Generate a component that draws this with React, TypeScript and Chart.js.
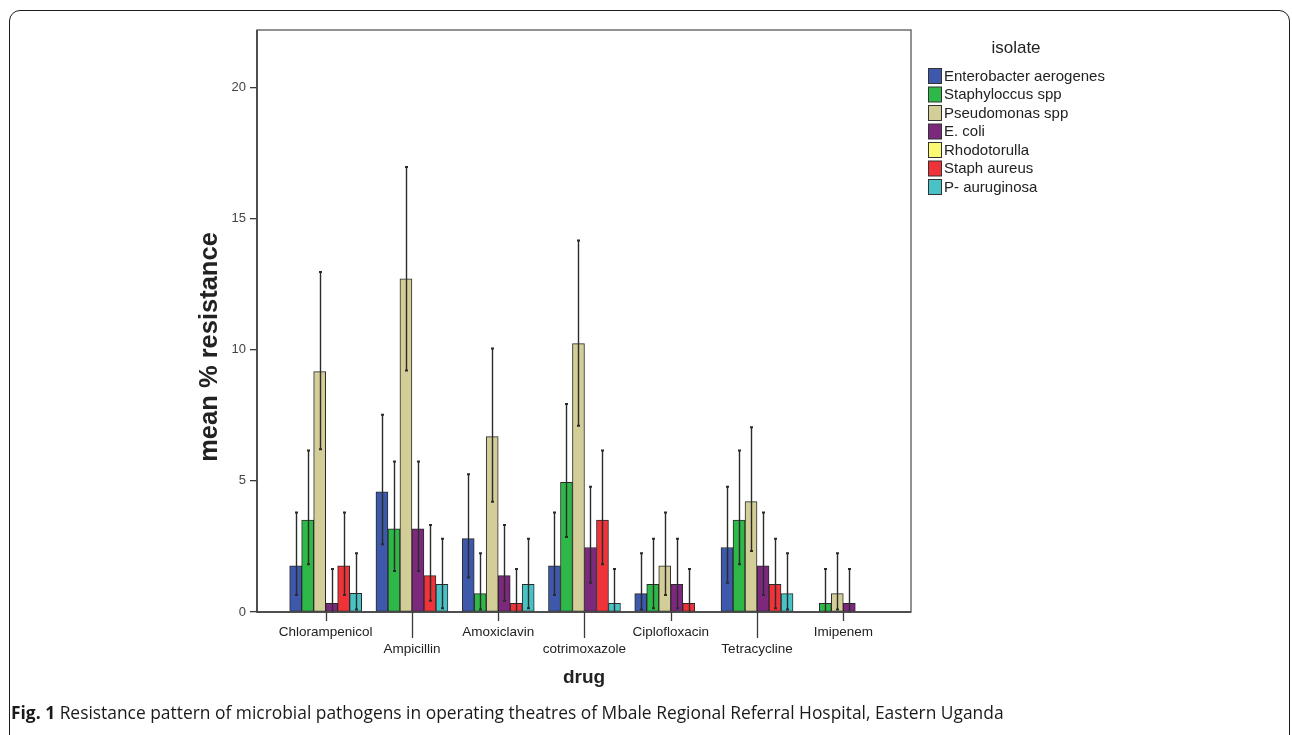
import React, { useEffect, useRef } from 'react';
import { Chart, registerables } from 'chart.js';

Chart.register(...registerables);

// ---------- data ----------
const drugs = ['Chlorampenicol', 'Ampicillin', 'Amoxiclavin', 'cotrimoxazole', 'Ciplofloxacin', 'Tetracycline', 'Imipenem'];
const isolateNames = ['Enterobacter aerogenes', 'Staphyloccus spp', 'Pseudomonas spp', 'E. coli', 'Rhodotorulla', 'Staph aureus', 'P- auruginosa'];
const isolateColors = ['#3E58AC', '#2EB848', '#D3CE97', '#7C287D', '#FBF873', '#EF3338', '#48C2C5'];
const yTickValues = [0, 5, 10, 15, 20];
const legendTitle = 'isolate';
const xTitle = 'drug';
const yTitle = 'mean % resistance';

const enterobacter = [1.76, 4.58, 2.8, 1.76, 0.7, 2.46, 0];
const enterobacterHi = [3.8, 7.52, 5.25, 3.8, 2.24, 4.78, null];
const enterobacterLo = [0.65, 2.58, 1.32, 0.65, 0.1, 1.12, null];

const staphyloccus = [3.51, 3.17, 0.7, 4.95, 1.06, 3.51, 0.33];
const staphyloccusHi = [6.16, 5.74, 2.24, 7.93, 2.79, 6.16, 1.64];
const staphyloccusLo = [1.82, 1.56, 0.1, 2.86, 0.14, 1.82, 0.0];

const pseudomonas = [9.17, 12.71, 6.69, 10.24, 1.76, 4.21, 0.7];
const pseudomonasHi = [12.97, 16.97, 10.05, 14.17, 3.8, 7.05, 2.24];
const pseudomonasLo = [6.21, 9.21, 4.21, 7.1, 0.65, 2.33, 0.1];

const ecoli = [0.33, 3.17, 1.39, 2.46, 1.06, 1.76, 0.33];
const ecoliHi = [1.64, 5.74, 3.32, 4.78, 2.79, 3.8, 1.64];
const ecoliLo = [0.0, 1.56, 0.43, 1.12, 0.14, 0.65, 0.0];

const rhodotorulla = [null, null, null, null, null, null, null];
const rhodotorullaHi = [null, null, null, null, null, null, null];
const rhodotorullaLo = [null, null, null, null, null, null, null];

const staphAureus = [1.76, 1.39, 0.33, 3.51, 0.33, 1.06, 0];
const staphAureusHi = [3.8, 3.32, 1.64, 6.16, 1.64, 2.79, null];
const staphAureusLo = [0.65, 0.43, 0.0, 1.82, 0.0, 0.14, null];

const pAuruginosa = [0.71, 1.06, 1.06, 0.33, 0, 0.7, 0];
const pAuruginosaHi = [2.24, 2.79, 2.79, 1.64, null, 2.24, null];
const pAuruginosaLo = [0.1, 0.14, 0.14, 0.0, null, 0.1, null];

const seriesValues = [enterobacter, staphyloccus, pseudomonas, ecoli, rhodotorulla, staphAureus, pAuruginosa];
const seriesHi = [enterobacterHi, staphyloccusHi, pseudomonasHi, ecoliHi, rhodotorullaHi, staphAureusHi, pAuruginosaHi];
const seriesLo = [enterobacterLo, staphyloccusLo, pseudomonasLo, ecoliLo, rhodotorullaLo, staphAureusLo, pAuruginosaLo];

const FONT = '"Liberation Sans", Arial, sans-serif';

export default function App() {
  const canvasRef = useRef<HTMLCanvasElement | null>(null);

  useEffect(() => {
    const canvas = canvasRef.current;
    if (!canvas) return;

    const errorBars = {
      id: 'errorBars',
      afterDatasetsDraw(chart: any) {
        const ctx = chart.ctx;
        const ys = chart.scales.y;
        ctx.save();
        ctx.strokeStyle = '#2b2b2b';
        chart.data.datasets.forEach((_: any, i: number) => {
          if (!chart.isDatasetVisible(i)) return;
          const meta = chart.getDatasetMeta(i);
          meta.data.forEach((bar: any, j: number) => {
            const hi = seriesHi[i][j];
            const lo = seriesLo[i][j];
            if (hi == null || lo == null) return;
            const x = Math.round(bar.x) + 0.5;
            const y1 = ys.getPixelForValue(hi);
            const y2 = ys.getPixelForValue(lo);
            ctx.lineWidth = 1.4;
            ctx.beginPath();
            ctx.moveTo(x, y1);
            ctx.lineTo(x, y2);
            ctx.stroke();
            ctx.lineWidth = 2;
            ctx.beginPath();
            ctx.moveTo(x - 1.5, y1);
            ctx.lineTo(x + 1.5, y1);
            ctx.moveTo(x - 1.5, y2);
            ctx.lineTo(x + 1.5, y2);
            ctx.stroke();
          });
        });
        ctx.restore();
      },
    };

    const decor = {
      id: 'decor',
      afterDraw(chart: any) {
        const ctx = chart.ctx;
        const a = chart.chartArea;
        const xs = chart.scales.x;
        ctx.save();
        // plot frame
        ctx.strokeStyle = '#6e6e6e';
        ctx.lineWidth = 1.5;
        ctx.strokeRect(a.left, a.top, a.right - a.left, a.bottom - a.top);
        ctx.strokeStyle = '#3a3a3a';
        ctx.beginPath();
        ctx.moveTo(a.left, a.top);
        ctx.lineTo(a.left, a.bottom);
        ctx.lineTo(a.right, a.bottom);
        ctx.stroke();
        // x tick marks (staggered)
        ctx.lineWidth = 1.3;
        drugs.forEach((_, i) => {
          const px = Math.round(xs.getPixelForValue(i)) + 0.5;
          const len = i % 2 === 0 ? 9 : 26;
          ctx.beginPath();
          ctx.moveTo(px, a.bottom);
          ctx.lineTo(px, a.bottom + len);
          ctx.stroke();
        });
        // y axis title (rotated)
        ctx.save();
        ctx.translate(210, 347);
        ctx.rotate(-Math.PI / 2);
        ctx.fillStyle = '#222';
        ctx.font = `bold 25.5px ${FONT}`;
        ctx.textAlign = 'center';
        ctx.textBaseline = 'middle';
        ctx.fillText(yTitle, 0, 0);
        ctx.restore();
        // legend
        const lx = a.right + 17;
        ctx.fillStyle = '#222';
        ctx.font = `17px ${FONT}`;
        ctx.textAlign = 'center';
        ctx.textBaseline = 'middle';
        ctx.fillText(legendTitle, lx + 88, 48);
        chart.data.datasets.forEach((ds: any, i: number) => {
          const cy = 76 + i * 18.5;
          ctx.fillStyle = ds.backgroundColor;
          ctx.fillRect(lx, cy - 7.5, 13, 15);
          ctx.strokeStyle = '#333';
          ctx.lineWidth = 1;
          ctx.strokeRect(lx + 0.5, cy - 7.5, 13, 15);
          ctx.fillStyle = '#222';
          ctx.font = `15px ${FONT}`;
          ctx.textAlign = 'left';
          ctx.fillText(ds.label, lx + 16, cy + 0.5);
        });
        ctx.restore();
      },
    };

    const chart = new Chart(canvas, {
      type: 'bar',
      data: {
        datasets: isolateNames.map((name, i) => ({
          label: name,
          data: seriesValues[i].map((v, j) => ({ x: j, y: v })),
          backgroundColor: isolateColors[i],
          borderColor: '#2a2a2a',
          borderWidth: 1,
          borderSkipped: false,
          barThickness: 12,
          hidden: seriesValues[i].every((v) => v == null),
        })),
      },
      options: {
        animation: false,
        responsive: false,
        devicePixelRatio: 1,
        layout: { padding: { left: 0, top: 30, right: 381, bottom: 0 } },
        plugins: {
          legend: { display: false },
          tooltip: { enabled: false },
        },
        scales: {
          x: {
            type: 'linear',
            offset: false,
            min: -0.796,
            max: 6.785,
            afterBuildTicks: (scale: any) => {
              scale.ticks = drugs.map((_, i) => ({ value: i }));
            },
            afterFit: (scale: any) => {
              scale.height = 123;
            },
            grid: { display: false, drawTicks: false },
            border: { display: false },
            ticks: {
              autoSkip: false,
              maxRotation: 0,
              minRotation: 0,
              padding: 12,
              color: '#222',
              font: { family: FONT, size: 13.5, lineHeight: 1.27 },
              callback: (value: any, index: number) => {
                const label = drugs[Math.round(Number(value))] ?? '';
                return index % 2 === 0 ? label : ['', label];
              },
            },
            title: {
              display: true,
              text: xTitle,
              color: '#222',
              font: { family: FONT, size: 19, weight: 'bold' },
              padding: { top: 0, bottom: 46 },
            },
          },
          y: {
            min: 0,
            max: 22.2,
            afterBuildTicks: (scale: any) => {
              scale.ticks = yTickValues.map((v) => ({ value: v }));
            },
            afterFit: (scale: any) => {
              scale.width = 257;
            },
            grid: { drawOnChartArea: false, drawTicks: true, tickLength: 7, color: '#3a3a3a', lineWidth: 1.3 },
            border: { display: false },
            ticks: {
              padding: 4,
              color: '#444',
              font: { family: FONT, size: 13 },
            },
            title: { display: false },
          },
        },
      },
      plugins: [errorBars, decor],
    } as any);

    return () => chart.destroy();
  }, []);

  return (
    <div style={{ position: 'fixed', left: 0, top: 0, width: 1292, height: 735, overflow: 'hidden', background: '#fff' }}>
      <div
        style={{
          position: 'absolute',
          left: 9,
          top: 10,
          width: 1281,
          height: 820,
          border: '1.5px solid #1c1c1c',
          borderRadius: 11,
          boxSizing: 'border-box',
        }}
      />
      <canvas ref={canvasRef} width={1292} height={735} style={{ position: 'absolute', left: 0, top: 0, width: 1292, height: 735 }} />
      <div
        style={{
          position: 'absolute',
          left: 11,
          top: 701,
          whiteSpace: 'nowrap',
          fontFamily: '"Open Sans", sans-serif',
          fontSize: 17.4,
          color: '#1a1a1a',
          lineHeight: '22px',
        }}
      >
        <b>Fig. 1</b> Resistance pattern of microbial pathogens in operating theatres of Mbale Regional Referral Hospital, Eastern Uganda
      </div>
    </div>
  );
}
